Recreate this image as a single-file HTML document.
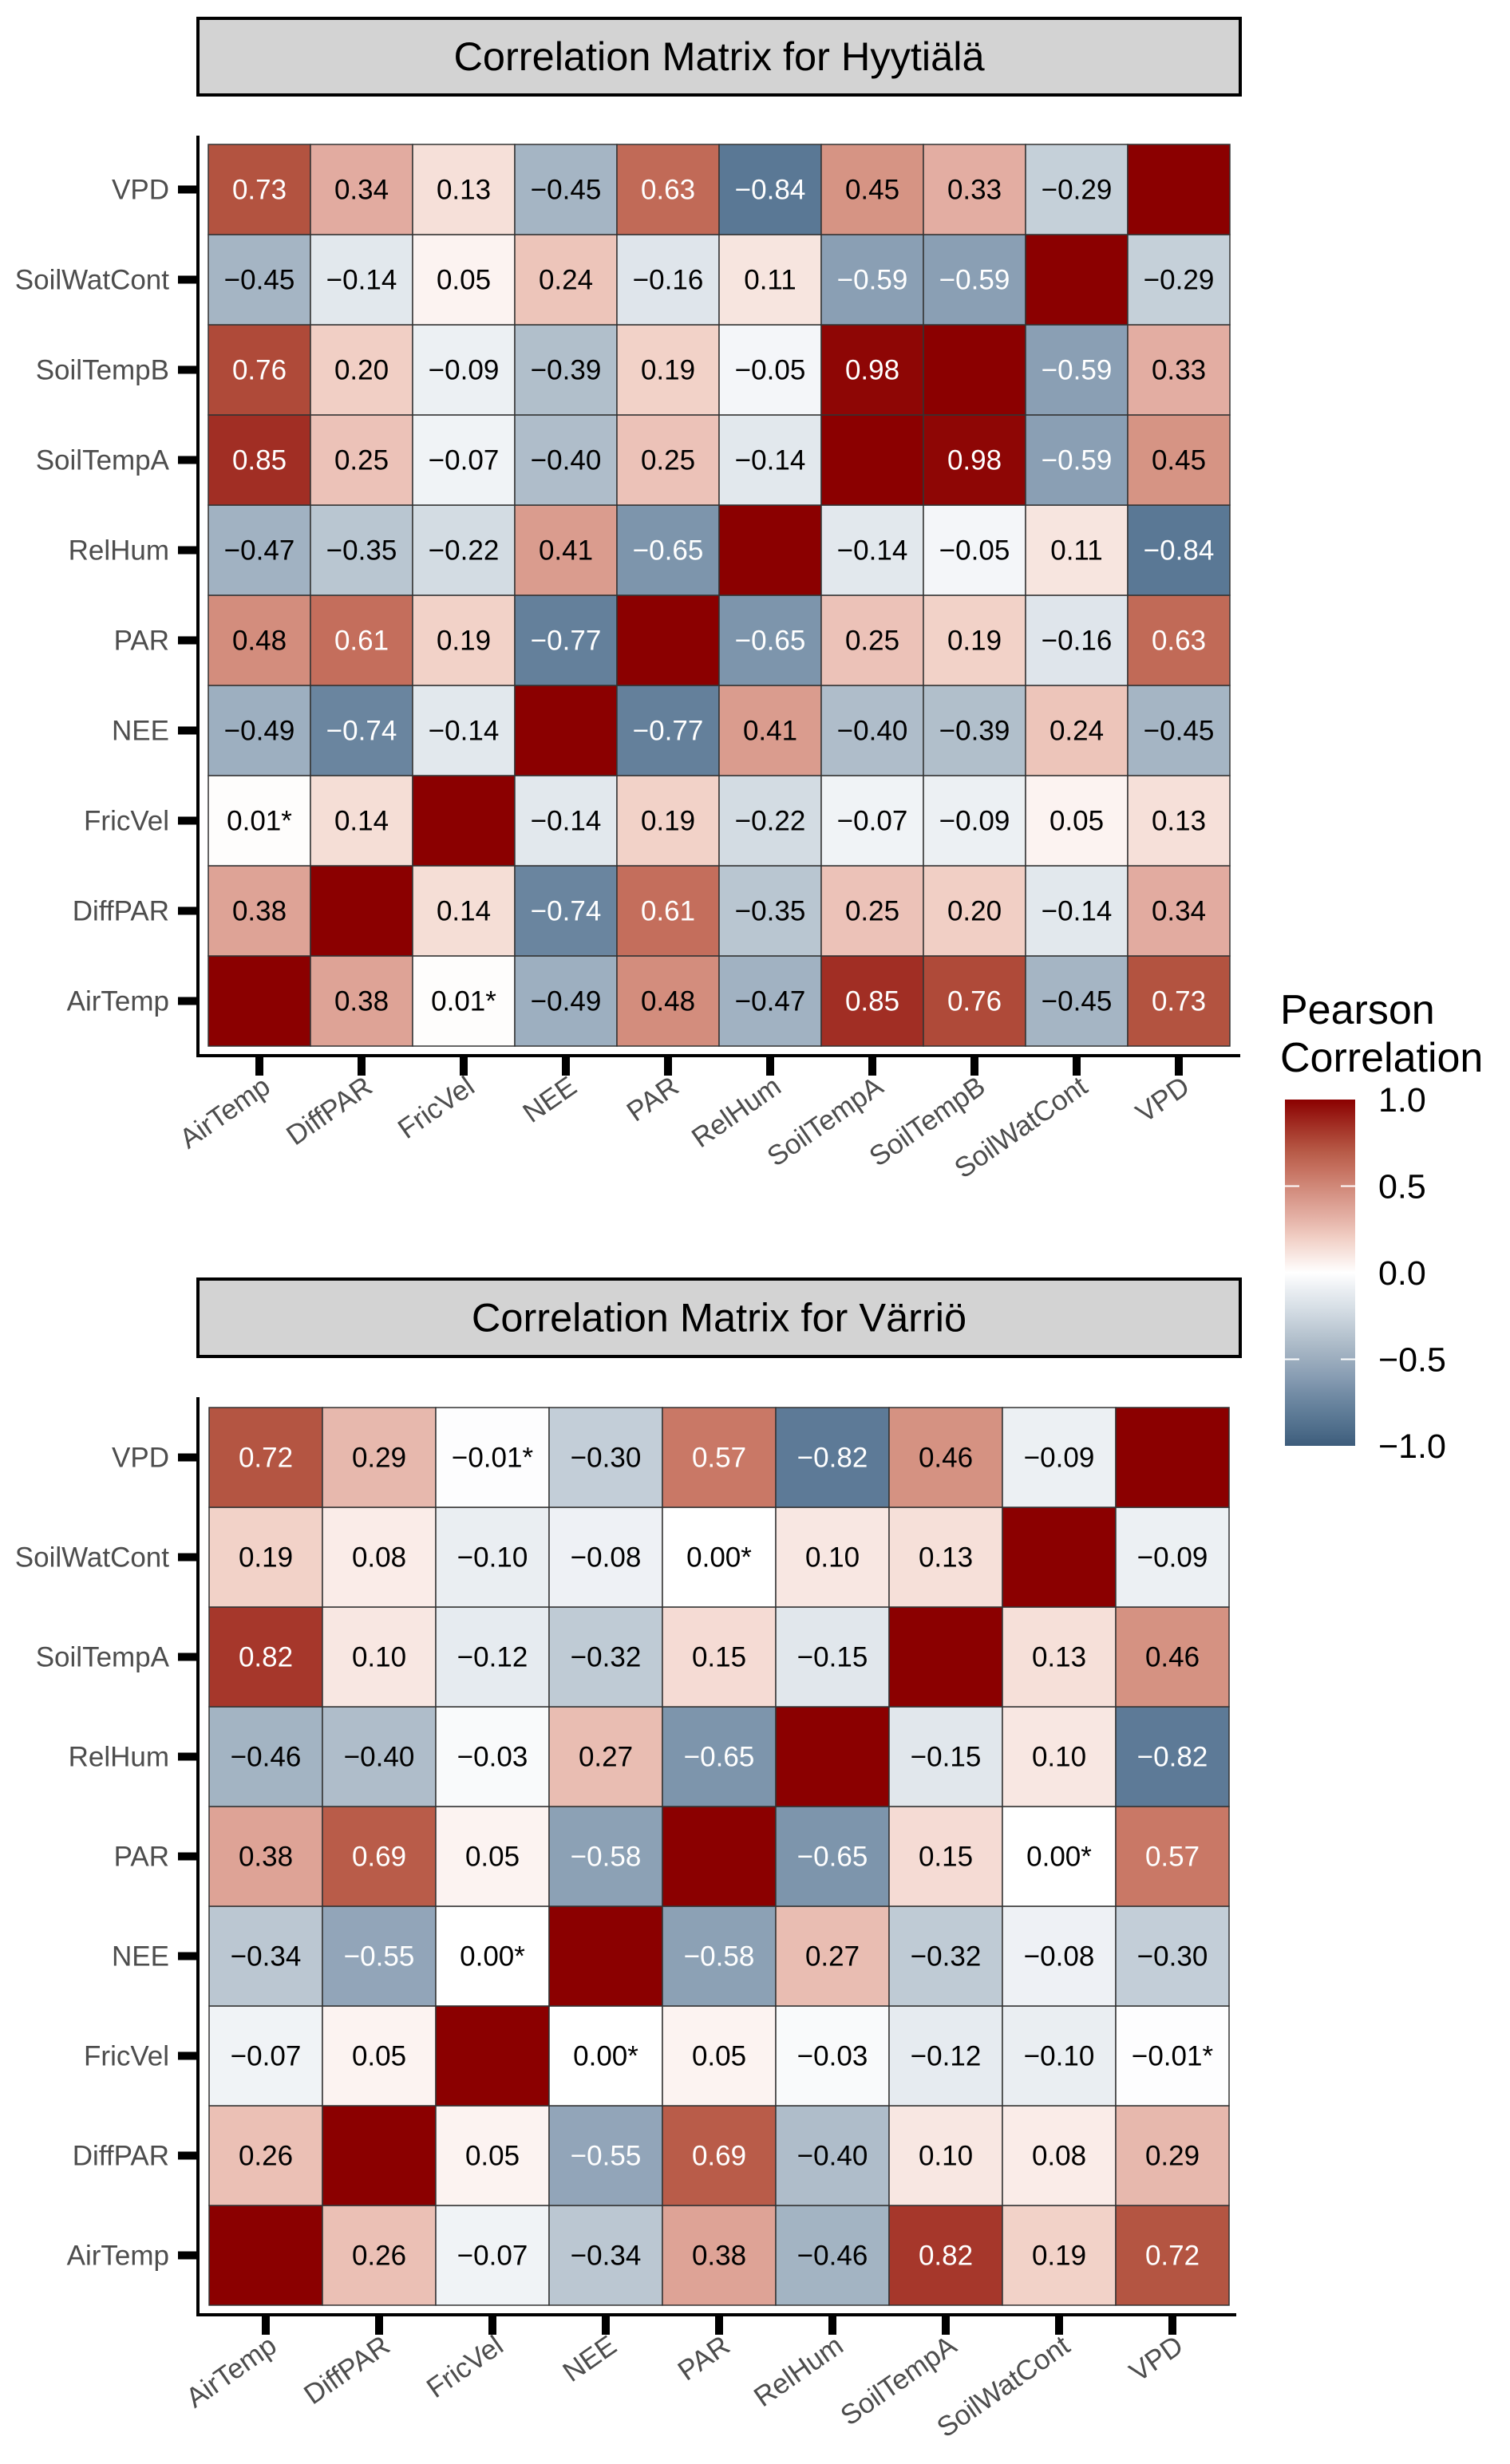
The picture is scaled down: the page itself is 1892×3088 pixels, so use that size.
<!DOCTYPE html>
<html><head><meta charset="utf-8">
<style>
html,body{margin:0;padding:0;background:#fff;}
svg{display:block;font-family:"Liberation Sans",Arial,sans-serif;}
</style></head>
<body>
<svg id="chart" width="1892" height="3088" viewBox="0 0 1892 3088" xmlns="http://www.w3.org/2000/svg"></svg>
<script>
const varsHyy = ["AirTemp","DiffPAR","FricVel","NEE","PAR","RelHum","SoilTempA","SoilTempB","SoilWatCont","VPD"];
const corrHyy = [
 [1,0.38,0.01,-0.49,0.48,-0.47,0.85,0.76,-0.45,0.73],
 [0.38,1,0.14,-0.74,0.61,-0.35,0.25,0.20,-0.14,0.34],
 [0.01,0.14,1,-0.14,0.19,-0.22,-0.07,-0.09,0.05,0.13],
 [-0.49,-0.74,-0.14,1,-0.77,0.41,-0.40,-0.39,0.24,-0.45],
 [0.48,0.61,0.19,-0.77,1,-0.65,0.25,0.19,-0.16,0.63],
 [-0.47,-0.35,-0.22,0.41,-0.65,1,-0.14,-0.05,0.11,-0.84],
 [0.85,0.25,-0.07,-0.40,0.25,-0.14,1,0.98,-0.59,0.45],
 [0.76,0.20,-0.09,-0.39,0.19,-0.05,0.98,1,-0.59,0.33],
 [-0.45,-0.14,0.05,0.24,-0.16,0.11,-0.59,-0.59,1,-0.29],
 [0.73,0.34,0.13,-0.45,0.63,-0.84,0.45,0.33,-0.29,1]
];
const nonsigHyy = [["AirTemp","FricVel"]];

const varsVar = ["AirTemp","DiffPAR","FricVel","NEE","PAR","RelHum","SoilTempA","SoilWatCont","VPD"];
const corrVar = [
 [1,0.26,-0.07,-0.34,0.38,-0.46,0.82,0.19,0.72],
 [0.26,1,0.05,-0.55,0.69,-0.40,0.10,0.08,0.29],
 [-0.07,0.05,1,0.00,0.05,-0.03,-0.12,-0.10,-0.01],
 [-0.34,-0.55,0.00,1,-0.58,0.27,-0.32,-0.08,-0.30],
 [0.38,0.69,0.05,-0.58,1,-0.65,0.15,0.00,0.57],
 [-0.46,-0.40,-0.03,0.27,-0.65,1,-0.15,0.10,-0.82],
 [0.82,0.10,-0.12,-0.32,0.15,-0.15,1,0.13,0.46],
 [0.19,0.08,-0.10,-0.08,0.00,0.10,0.13,1,-0.09],
 [0.72,0.29,-0.01,-0.30,0.57,-0.82,0.46,-0.09,1]
];
const nonsigVar = [["FricVel","NEE"],["FricVel","VPD"],["PAR","SoilWatCont"]];

const legendTicks = [1.0,0.5,0.0,-0.5,-1.0];
const legendTickLabels = ["1.0","0.5","0.0","\u22120.5","\u22121.0"];

const NS="http://www.w3.org/2000/svg";
const svg=document.getElementById('chart');
function mk(tag,attrs,parent){const e=document.createElementNS(NS,tag);for(const k in attrs)e.setAttribute(k,attrs[k]);(parent||svg).appendChild(e);return e;}

const stops=[[-1,[61,92,123]],[-0.84,[90,120,149]],[-0.77,[100,128,155]],[-0.59,[138,159,180]],[-0.40,[175,189,202]],[-0.22,[211,220,227]],[-0.07,[240,243,246]],[0,[255,255,255]],[0.19,[242,210,200]],[0.33,[227,173,162]],[0.45,[214,148,132]],[0.61,[196,110,92]],[0.73,[179,83,64]],[1,[139,0,0]]];
function color(v){v=Math.max(-1,Math.min(1,v));for(let i=0;i<stops.length-1;i++){const a=stops[i],b=stops[i+1];if(v>=a[0]&&v<=b[0]){const t=(v-a[0])/(b[0]-a[0]);const c=a[1].map((x,j)=>Math.round(x+(b[1][j]-x)*t));return `rgb(${c[0]},${c[1]},${c[2]})`;}}return '#fff';}
function fmt(v){const s=Math.abs(v).toFixed(2);return (v<0&&s!=="0.00"?"\u2212":"")+s;}

function drawPanel(opt){
 const {vars,corr,nonsig,title,boxTop,boxBottom,axisTop,left,top,cw,ch,axisRight,id}=opt;
 const n=vars.length;
 const g=mk('g',{});
 
 
 const xs=i=>left+i*cw;
 const ys=j=>top+(n-1-j)*ch;
 const bottom=top+n*ch;
 const tb=mk('rect',{x:248,y:boxTop+2,width:1306,height:boxBottom-boxTop-4,fill:'#d3d3d3',stroke:'#000','stroke-width':4},g);
 
 
 const tt=mk('text',{x:901,y:(boxTop+boxBottom)/2+17,'text-anchor':'middle','font-size':50.5,fill:'#000'},g);
 tt.textContent=title;
 
 
 for(let j=0;j<n;j++){for(let i=0;i<n;i++){
  const v=corr[j][i];
  const r=mk('rect',{x:xs(i),y:ys(j),width:cw,height:ch,fill:color(v),stroke:'#333','stroke-width':1.5},g);
  
  
  if(i!==j){
   const star=nonsig.some(p=>(p[0]===vars[i]&&p[1]===vars[j])||(p[1]===vars[i]&&p[0]===vars[j]));
   const t=mk('text',{x:xs(i)+cw/2,y:ys(j)+ch/2+12,'text-anchor':'middle','font-size':35,fill:Math.abs(v)>=0.5?'#fff':'#000'},g);
   t.textContent=fmt(v)+(star?'*':'');
   
   
  }
 }}
 const axisY=bottom+12;
 const ya=mk('line',{x1:248,y1:axisTop,x2:248,y2:axisY+2,stroke:'#000','stroke-width':4},g);
 
 
 const xa=mk('line',{x1:246,y1:axisY,x2:axisRight,y2:axisY,stroke:'#000','stroke-width':4},g);
 
 
 for(let j=0;j<n;j++){
  const cy=ys(j)+ch/2;
  const tk=mk('line',{x1:223,y1:cy,x2:248,y2:cy,stroke:'#000','stroke-width':10},g);
  
  
  const lb=mk('text',{x:212,y:cy+12,'text-anchor':'end','font-size':35,fill:'#4d4d4d'},g);
  lb.textContent=vars[j];
  
  
 }
 for(let i=0;i<n;i++){
  const cx=xs(i)+cw/2;
  const tk=mk('line',{x1:cx,y1:axisY,x2:cx,y2:axisY+25,stroke:'#000','stroke-width':10},g);
  
  
  const ax=cx+16, ay=axisY+44;
  const lb=mk('text',{x:ax,y:ay,'text-anchor':'end','font-size':35,fill:'#4d4d4d',transform:`rotate(-35 ${ax} ${ay})`},g);
  lb.textContent=vars[i];
  
  
 }
}

drawPanel({vars:varsHyy,corr:corrHyy,nonsig:nonsigHyy,title:"Correlation Matrix for Hyytiälä",boxTop:21,boxBottom:121,axisTop:170,left:261,top:181,cw:128,ch:113,axisRight:1554,id:'hyytiala'});
drawPanel({vars:varsVar,corr:corrVar,nonsig:nonsigVar,title:"Correlation Matrix for Värriö",boxTop:1601,boxBottom:1702,axisTop:1751,left:262,top:1764,cw:142,ch:125,axisRight:1549,id:'varrio'});

const lg=mk('g',{});


const l1=mk('text',{x:1604,y:1283,'font-size':52,fill:'#000'},lg);l1.textContent='Pearson';


const l2=mk('text',{x:1604,y:1343,'font-size':52,fill:'#000'},lg);l2.textContent='Correlation';


const defs=mk('defs',{});
const grad=mk('linearGradient',{id:'cb',x1:0,y1:0,x2:0,y2:1},defs);
for(let k=0;k<=20;k++){const v=1-k/10;mk('stop',{offset:(k/20),'stop-color':color(v)},grad);}
const barTop=1378,barBot=1812,bx=1610,bw=88;
const legY=v=>barTop+(1-v)/2*(barBot-barTop);
const cb=mk('rect',{x:bx,y:barTop,width:bw,height:barBot-barTop,fill:'url(#cb)'},lg);


legendTicks.forEach((v,k)=>{
 const y=legY(v);
 if(Math.abs(v)<1){
  mk('line',{x1:bx,y1:y,x2:bx+18,y2:y,stroke:'#fff','stroke-width':2},lg);
  mk('line',{x1:bx+bw-18,y1:y,x2:bx+bw,y2:y,stroke:'#fff','stroke-width':2},lg);
 }
 const t=mk('text',{x:1727,y:y+15,'font-size':43,fill:'#000'},lg);
 t.textContent=legendTickLabels[k];
 
 
});
</script>
</body></html>
